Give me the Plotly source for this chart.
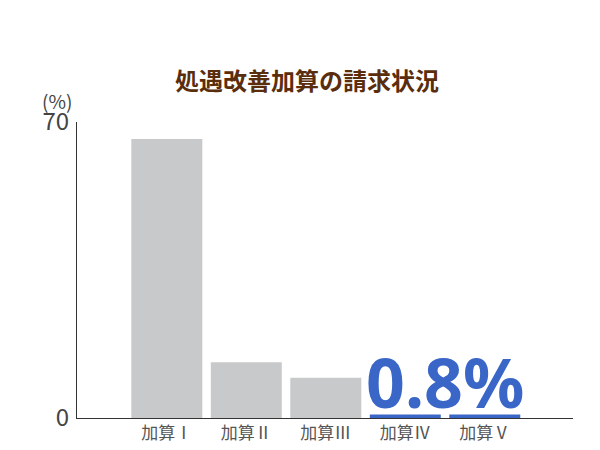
import plotly.graph_objects as go

categories = ["加算Ⅰ", "加算Ⅱ", "加算Ⅲ", "加算Ⅳ", "加算Ⅴ"]
values = [66.0, 13.2, 9.5, 0.8, 0.8]
bar_colors = ["#c8c9ca", "#c8c9ca", "#c8c9ca", "#3a66c8", "#3a66c8"]
y_ticks = [0, 70]
highlight_text = "0.8%"

font_jp = "Noto Sans CJK JP"

# the page body adds an 8px margin, so the figure is 8px smaller each way
W, H = 592, 442

fig = go.Figure()
fig.add_trace(go.Bar(
    x=categories,
    y=values,
    marker=dict(color=bar_colors, line=dict(width=0)),
    hoverinfo="skip",
))

# big label over bars IV and V
fig.add_annotation(
    x=3.5, y=values[3], xref="x", yref="y",
    text="<b>" + highlight_text + "</b>",
    showarrow=False, xanchor="center", yanchor="bottom", yshift=-15,
    font=dict(family="Noto Sans", size=68, color="#3a66c8"),
)
fig.add_annotation(
    x=-0.040, y=1.071, xref="paper", yref="paper",
    text="(%)", showarrow=False, xanchor="center", yanchor="middle",
    font=dict(family=font_jp, size=19, color="#444444"),
)

fig.update_layout(
    width=W, height=H,
    margin=dict(l=69, r=27, t=114, b=32),
    paper_bgcolor="white", plot_bgcolor="white",
    showlegend=False,
    bargap=0.107,
    title=dict(
        text="<b>処遇改善加算の請求状況</b>",
        x=299 / W, xanchor="center", y=1 - 74 / H, yanchor="middle",
        font=dict(family=font_jp, size=24, color="#5a2d0c"),
    ),
    xaxis=dict(
        range=[-1.13, 5.11], automargin=False,
        showline=True, linecolor="#333333", linewidth=1,
        showgrid=False, ticks="",
        tickfont=dict(family=font_jp, size=17, color="#555555"),
    ),
    yaxis=dict(
        range=[0, 70], automargin=False,
        tickvals=y_ticks,
        showline=True, linecolor="#333333", linewidth=1,
        showgrid=False, zeroline=False, ticks="",
        ticklabelstandoff=2,
        tickfont=dict(family=font_jp, size=24, color="#444444"),
    ),
)

fig.write_html("out.html")
